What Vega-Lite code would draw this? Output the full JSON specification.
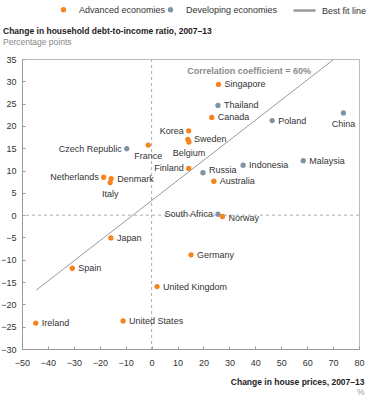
{
  "$schema": "https://vega.github.io/schema/vega-lite/v6.json",
  "width": 337,
  "height": 290,
  "autosize": "none",
  "padding": {"left": 22, "top": 59, "right": 11, "bottom": 51},
  "background": "white",
  "title": {
    "text": "Change in household debt-to-income ratio, 2007–13",
    "subtitle": "Percentage points",
    "anchor": "start",
    "frame": "group",
    "dx": -19,
    "offset": -48,
    "font": "Liberation Sans",
    "fontSize": 8.5,
    "fontWeight": "bold",
    "color": "#222",
    "subtitleFont": "Liberation Sans",
    "subtitleFontSize": 8.5,
    "subtitleColor": "#888",
    "subtitlePadding": 2
  },
  "config": {
    "view": {"stroke": "#bbb", "strokeWidth": 1},
    "axis": {
      "labelFont": "Liberation Sans",
      "labelFontSize": 9,
      "labelColor": "#333",
      "labelOverlap": false,
      "labelFlush": false,
      "domainColor": "#999",
      "tickColor": "#999",
      "grid": false,
      "titleFont": "Liberation Sans"
    },
    "axisX": {
      "tickSize": -3,
      "labelPadding": 12,
      "titleFontSize": 8.5,
      "titleFontWeight": "bold",
      "titleColor": "#222",
      "titleAlign": "right",
      "titleAnchor": "end",
      "titleBaseline": "alphabetic",
      "titleX": 342,
      "titleY": 35
    },
    "axisY": {
      "tickSize": -3,
      "labelPadding": 9,
      "titleAngle": 0,
      "titleAlign": "right",
      "titleBaseline": "alphabetic",
      "titleFontSize": 8.5,
      "titleFontWeight": "normal",
      "titleColor": "#999",
      "titleX": 342,
      "titleY": 335
    },
    "legend": {
      "labelFont": "Liberation Sans",
      "labelFontSize": 9,
      "labelColor": "#333"
    },
    "text": {"font": "Liberation Sans", "fontSize": 9, "color": "#333"}
  },
  "datasets": {
    "countries": [
      {"country": "Singapore", "x": 25.8, "y": 29.3, "group": "Advanced economies"},
      {"country": "Thailand", "x": 25.6, "y": 24.6, "group": "Developing economies"},
      {"country": "Canada", "x": 23.2, "y": 21.9, "group": "Advanced economies"},
      {"country": "Poland", "x": 46.5, "y": 21.2, "group": "Developing economies"},
      {"country": "China", "x": 74, "y": 22.9, "group": "Developing economies"},
      {"country": "Korea", "x": 14.3, "y": 18.9, "group": "Advanced economies"},
      {"country": "Sweden", "x": 14, "y": 17, "group": "Advanced economies"},
      {"country": "Belgium", "x": 14.4, "y": 16.4, "group": "Advanced economies"},
      {"country": "Finland", "x": 14.3, "y": 10.5, "group": "Advanced economies"},
      {"country": "Czech Republic", "x": -9.6, "y": 14.9, "group": "Developing economies"},
      {"country": "France", "x": -1.3, "y": 15.7, "group": "Advanced economies"},
      {"country": "Netherlands", "x": -18.5, "y": 8.5, "group": "Advanced economies"},
      {"country": "Denmark", "x": -15.6, "y": 8.2, "group": "Advanced economies"},
      {"country": "Italy", "x": -16, "y": 7.3, "group": "Advanced economies"},
      {"country": "Russia", "x": 19.8, "y": 9.5, "group": "Developing economies"},
      {"country": "Indonesia", "x": 35.3, "y": 11.2, "group": "Developing economies"},
      {"country": "Malaysia", "x": 58.5, "y": 12.2, "group": "Developing economies"},
      {"country": "Australia", "x": 24, "y": 7.6, "group": "Advanced economies"},
      {"country": "South Africa", "x": 25.6, "y": 0.2, "group": "Developing economies"},
      {"country": "Norway", "x": 27.3, "y": -0.3, "group": "Advanced economies"},
      {"country": "Japan", "x": -15.7, "y": -5.1, "group": "Advanced economies"},
      {"country": "Spain", "x": -30.6, "y": -11.9, "group": "Advanced economies"},
      {"country": "United Kingdom", "x": 2.1, "y": -16, "group": "Advanced economies"},
      {"country": "Ireland", "x": -44.7, "y": -24.2, "group": "Advanced economies"},
      {"country": "United States", "x": -11, "y": -23.7, "group": "Advanced economies"},
      {"country": "Germany", "x": 15.2, "y": -8.9, "group": "Advanced economies"}
    ],
    "fit": [
      {"x": -44.5, "y": -16.8},
      {"x": 70, "y": 34.8}
    ],
    "note": [
      {"label": "Correlation coefficient = 60%", "x": 37.6, "y": 32.4}
    ]
  },
  "resolve": {"scale": {"color": "independent"}},
  "layer": [
    {
      "data": {"values": [{"v": 0}]},
      "mark": {"type": "rule", "color": "#aaa", "strokeDash": [3, 3], "strokeWidth": 1},
      "encoding": {
        "x": {"datum": 0, "type": "quantitative", "scale": {"domain": [-50, 80], "nice": false}, "title": "Change in house prices, 2007–13"}
      }
    },
    {
      "data": {"values": [{"v": 0}]},
      "mark": {"type": "rule", "color": "#aaa", "strokeDash": [3, 3], "strokeWidth": 1},
      "encoding": {
        "y": {"datum": 0, "type": "quantitative", "scale": {"domain": [-30, 35], "nice": false}, "title": "%"}
      }
    },
    {
      "data": {"name": "fit"},
      "mark": {"type": "line", "strokeWidth": 1, "clip": true},
      "encoding": {
        "x": {"field": "x", "type": "quantitative", "scale": {"domain": [-50, 80], "nice": false}, "title": "Change in house prices, 2007–13"},
        "y": {"field": "y", "type": "quantitative", "scale": {"domain": [-30, 35], "nice": false}, "title": "%"},
        "color": {
          "datum": "Best fit line",
          "scale": {"domain": ["Best fit line"], "range": ["#999999"]},
          "legend": {
            "title": null,
            "orient": "none",
            "legendX": 270,
            "legendY": -61,
            "symbolSize": 484,
            "symbolStrokeWidth": 2.5,
            "symbolStrokeColor": "#bbbbbb",
            "labelOffset": 5,
            "padding": 0
          }
        }
      }
    },
    {
      "data": {"name": "countries"},
      "mark": {"type": "point", "filled": true, "size": 28, "opacity": 1},
      "encoding": {
        "x": {
          "field": "x",
          "type": "quantitative",
          "scale": {"domain": [-50, 80], "nice": false},
          "title": "Change in house prices, 2007–13",
          "axis": {
            "values": [-50, -40, -30, -20, -10, 0, 10, 20, 30, 40, 50, 60, 70, 80],
            "tickCount": 30
          }
        },
        "y": {
          "field": "y",
          "type": "quantitative",
          "scale": {"domain": [-30, 35], "nice": false},
          "title": "%",
          "axis": {
            "values": [-30, -25, -20, -15, -10, -5, 0, 5, 10, 15, 20, 25, 30, 35],
            "tickCount": 30
          }
        },
        "color": {
          "field": "group",
          "type": "nominal",
          "scale": {"domain": ["Advanced economies", "Developing economies"], "range": ["#F7831E", "#7B95A7"]},
          "legend": {
            "title": null,
            "orient": "none",
            "direction": "horizontal",
            "legendX": 37,
            "legendY": -54,
            "symbolType": "circle",
            "symbolSize": 28,
            "labelOffset": 11,
            "columnPadding": -12,
            "padding": 0
          }
        }
      }
    },
    {
      "data": {"name": "countries"},
      "transform": [{"filter": "indexof(['Korea','Finland','Czech Republic','Netherlands','South Africa','France','Italy','Belgium','China','Russia','Norway'], datum.country) < 0"}],
      "mark": {"type": "text", "align": "left", "baseline": "middle", "dx": 6},
      "encoding": {
        "x": {"field": "x", "type": "quantitative", "scale": {"domain": [-50, 80], "nice": false}, "title": "Change in house prices, 2007–13"},
        "y": {"field": "y", "type": "quantitative", "scale": {"domain": [-30, 35], "nice": false}, "title": "%"},
        "text": {"field": "country"}
      }
    },
    {
      "data": {"name": "countries"},
      "transform": [{"filter": "datum.country === 'Russia'"}],
      "mark": {"type": "text", "align": "left", "baseline": "middle", "dx": 6, "dy": -3},
      "encoding": {
        "x": {"field": "x", "type": "quantitative", "scale": {"domain": [-50, 80], "nice": false}, "title": "Change in house prices, 2007–13"},
        "y": {"field": "y", "type": "quantitative", "scale": {"domain": [-30, 35], "nice": false}, "title": "%"},
        "text": {"field": "country"}
      }
    },
    {
      "data": {"name": "countries"},
      "transform": [{"filter": "datum.country === 'Norway'"}],
      "mark": {"type": "text", "align": "left", "baseline": "middle", "dx": 6, "dy": 2},
      "encoding": {
        "x": {"field": "x", "type": "quantitative", "scale": {"domain": [-50, 80], "nice": false}, "title": "Change in house prices, 2007–13"},
        "y": {"field": "y", "type": "quantitative", "scale": {"domain": [-30, 35], "nice": false}, "title": "%"},
        "text": {"field": "country"}
      }
    },
    {
      "data": {"name": "countries"},
      "transform": [{"filter": "indexof(['Korea','Finland','Czech Republic','Netherlands','South Africa'], datum.country) >= 0"}],
      "mark": {"type": "text", "align": "right", "baseline": "middle", "dx": -5},
      "encoding": {
        "x": {"field": "x", "type": "quantitative", "scale": {"domain": [-50, 80], "nice": false}, "title": "Change in house prices, 2007–13"},
        "y": {"field": "y", "type": "quantitative", "scale": {"domain": [-30, 35], "nice": false}, "title": "%"},
        "text": {"field": "country"}
      }
    },
    {
      "data": {"name": "countries"},
      "transform": [{"filter": "indexof(['France','Italy','Belgium','China'], datum.country) >= 0"}],
      "mark": {"type": "text", "align": "center", "baseline": "middle", "dy": 11},
      "encoding": {
        "x": {"field": "x", "type": "quantitative", "scale": {"domain": [-50, 80], "nice": false}, "title": "Change in house prices, 2007–13"},
        "y": {"field": "y", "type": "quantitative", "scale": {"domain": [-30, 35], "nice": false}, "title": "%"},
        "text": {"field": "country"}
      }
    },
    {
      "data": {"name": "note"},
      "mark": {"type": "text", "align": "center", "baseline": "middle", "fontWeight": "bold", "color": "#8a8a8a"},
      "encoding": {
        "x": {"field": "x", "type": "quantitative", "scale": {"domain": [-50, 80], "nice": false}, "title": "Change in house prices, 2007–13"},
        "y": {"field": "y", "type": "quantitative", "scale": {"domain": [-30, 35], "nice": false}, "title": "%"},
        "text": {"field": "label"}
      }
    }
  ]
}
